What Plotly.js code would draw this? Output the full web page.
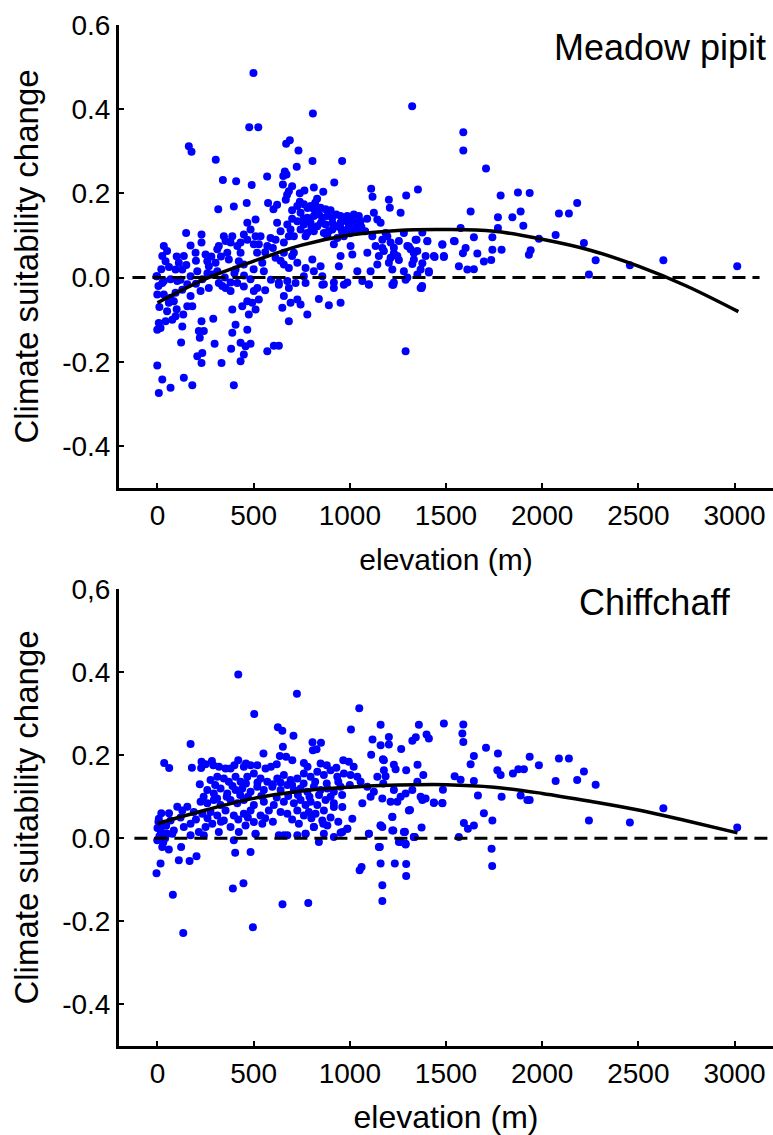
<!DOCTYPE html>
<html>
<head>
<meta charset="utf-8">
<script src="https://cdn.plot.ly/plotly-3.0.1.min.js"></script>
<style>html,body{margin:0;padding:0;background:#fff;}#chart{width:773px;height:1135px;}</style>
</head>
<body>
<div id="chart"></div>
<script>
// ---------- DATA ----------
const xTickVals = [0, 500, 1000, 1500, 2000, 2500, 3000];
const xTickText = ["0", "500", "1000", "1500", "2000", "2500", "3000"];
const yTickVals = [-0.4, -0.2, 0.0, 0.2, 0.4, 0.6];
const yTickTextTop = ["-0.4", "-0.2", "0.0", "0.2", "0.4", "0.6"];
const yTickTextBottom = ["-0.4", "-0.2", "0.0", "0.2", "0.4", "0,6"];

const speciesTop = "Meadow pipit";
const speciesBottom = "Chiffchaff";
const xTitle = "elevation (m)";
const yTitle = "Climate suitability change";

// Meadow pipit: [elevation (m), climate suitability change]
const meadowPoints = [
[1324,0.407],[808,0.390],[499,0.486],[477,0.357],[524,0.357],[163,0.312],[177,0.299],[669,0.318],[688,0.326],[733,0.302],[303,0.280],[806,0.277],[960,0.277],[724,0.263],[662,0.252],[654,0.241],[671,0.245],[570,0.240],[340,0.232],[409,0.229],[490,0.220],[919,0.226],[652,0.221],[700,0.217],[683,0.205],[813,0.214],[862,0.204],[764,0.207],[740,0.200],[1111,0.211],[1118,0.192],[1203,0.185],[1208,0.166],[1293,0.195],[1354,0.209],[316,0.162],[397,0.169],[464,0.177],[575,0.177],[622,0.173],[603,0.162],[667,0.185],[674,0.197],[830,0.187],
[727,0.170],[761,0.174],[796,0.170],[813,0.162],[848,0.166],[874,0.162],[744,0.154],[779,0.142],[813,0.146],[857,0.142],[883,0.146],[909,0.142],[952,0.146],[987,0.146],[1021,0.150],[1047,0.146],[727,0.134],[761,0.126],[796,0.130],[831,0.122],[874,0.126],[909,0.130],[952,0.130],[995,0.126],[1030,0.130],[1056,0.134],[744,0.114],[779,0.106],[813,0.110],[865,0.106],[909,0.114],[952,0.118],[987,0.114],[1021,0.114],[1047,0.114],[709,0.098],[770,0.098],[883,0.098],[935,0.094],[969,0.098],[675,0.126],[692,0.114],[683,0.098],
[700,0.160],[740,0.180],[780,0.165],[820,0.178],[840,0.150],[900,0.160],[930,0.150],[970,0.135],[1010,0.140],[1060,0.120],[1090,0.140],[1080,0.110],[700,0.140],[760,0.140],[800,0.120],[850,0.130],[890,0.110],[930,0.122],[960,0.108],[1000,0.105],
[149,0.106],[229,0.102],[229,0.083],[172,0.076],[198,0.059],[33,0.075],[50,0.063],[25,0.051],[42,0.039],[137,0.051],[111,0.035],[94,0.019],[129,0.019],[-2,0.003],[33,-0.008],[68,-0.004],[207,0.015],[172,0.003],[259,0.039],[267,0.027],[302,0.035],[311,0.015],[285,0.007],[319,0.075],[354,0.087],[389,0.098],[311,0.067],[363,0.059],[415,0.075],[432,0.083],[467,0.090],[371,0.043],[423,0.039],[406,0.019],[449,0.031],[467,0.130],[510,0.138],[484,0.114],[510,0.098],[536,0.098],[501,0.079],[518,0.059],[545,0.035],[553,0.015],[588,0.094],[614,0.090],[622,0.130],[640,0.110],[657,0.083],[614,0.047],[657,0.031],[683,0.023],[709,0.059],[770,0.023],[805,0.043],[813,0.015],[848,0.027],[761,0.003],[857,0.003],[952,0.051],[943,0.027],[917,0.079],[1004,0.075],[1013,0.055],[1039,0.015],[1065,-0.008],[1091,0.059],[1108,0.015],[1125,0.154],[1143,0.138],[1160,0.130],[1134,0.075],[1151,0.051],[1143,0.031],[1169,0.090],[1177,0.063],[1195,0.098],[1212,0.083],[1229,0.071],[1247,0.051],[1203,0.035],[1221,0.019],[1255,0.087],[1264,0.154],[1281,0.106],[1299,0.075],[1316,0.067],[1281,0.015],[1299,0.000],[1333,0.043],[1342,0.090],[1351,0.063],[1368,0.019],[1394,0.051],[1403,0.087],[1411,0.015],[1437,0.051],[1481,0.079],[1489,0.051],[1541,0.087],[1376,-0.020],[1229,-0.012],[1099,-0.016],[987,-0.012],[917,-0.012],[865,-0.016],[631,-0.012],[675,-0.008],[484,-0.004],[380,-0.012],[337,-0.020],[233,-0.004],[155,-0.016],[103,-0.008],[657,0.059],[571,0.075],[527,0.079],[449,0.102],[432,0.059],[345,0.098],[380,0.083],[700,0.051],[727,0.035],[1212,0.047],[1117,0.098],
[250,0.055],[280,0.050],[330,0.050],[200,0.040],[150,0.030],[100,0.050],[60,0.025],[20,0.020],[120,-0.005],[200,-0.015],[260,0.010],[350,0.000],[400,0.010],[450,0.005],[500,0.020],[560,0.060],[600,0.070],[640,0.040],[590,-0.005],[560,-0.030],[10,-0.070],[50,-0.080],[100,-0.075],[5,-0.020],
[-5,0.003],[25,-0.013],[-1,-0.040],[33,-0.040],[68,-0.048],[94,-0.036],[59,-0.060],[85,-0.056],[129,-0.029],[172,-0.044],[155,-0.068],[181,-0.068],[134,-0.088],[94,-0.092],[77,-0.100],[42,-0.104],[7,-0.108],[-1,-0.124],[16,-0.120],[129,-0.116],[229,-0.104],[290,-0.098],[215,-0.127],[241,-0.127],[220,-0.143],[123,-0.154],[297,-0.157],[389,-0.076],[406,-0.112],[389,-0.131],[467,-0.124],[432,-0.155],[458,-0.163],[484,-0.157],[383,-0.169],[449,-0.183],[432,-0.199],[233,-0.179],[207,-0.187],[229,-0.203],[333,-0.203],[-1,-0.209],[25,-0.242],[137,-0.238],[68,-0.262],[181,-0.256],[7,-0.274],[397,-0.256],[571,-0.175],[605,-0.162],[631,-0.162],[441,-0.068],[467,-0.056],[493,-0.060],[510,-0.076],[527,-0.052],[475,-0.088],[501,-0.032],[519,-0.025],[354,-0.025],[380,-0.032],[319,-0.013],[415,-0.013],[449,-0.021],[224,-0.032],[267,-0.025],[631,-0.017],[657,-0.044],[683,-0.025],[718,-0.013],[727,-0.052],[692,-0.060],[649,-0.072],[744,-0.064],[779,-0.088],[683,-0.104],[839,-0.051],[891,-0.066],[952,-0.060],[770,-0.013],[857,-0.017],[917,-0.025],[969,-0.017],[1099,-0.017],[1221,-0.017],[1373,-0.025],[1290,-0.175],
[1590,0.345],[1590,0.302],[1708,0.259],[1628,0.157],[1784,0.195],[1874,0.202],[1935,0.201],[1888,0.157],[1845,0.143],[1770,0.143],[1770,0.118],[1902,0.123],[2087,0.152],[2139,0.152],[2182,0.177],[2070,0.101],[1983,0.092],[1931,0.054],[1940,0.065],[2217,0.082],[2278,0.041],[2243,0.007],[2456,0.029],[2630,0.041],[3014,0.027],[1576,0.118],[1645,0.096],[1741,0.096],[1741,0.066],[1789,0.066],[1697,0.038],[1735,0.042],[1663,0.057],[1588,0.058],[1602,0.070],[1567,0.027],[1611,0.019],[1645,0.020],[1545,0.086],[1481,0.078],[1489,0.049],[1441,0.049],[1403,0.086],[1377,0.034],[1411,0.012],[1377,0.107],[1347,0.090],[1333,0.058],[1325,0.032],[1368,-0.025],[1226,-0.017],[1290,-0.005],[1351,0.007],[1255,0.042],[1229,0.058],[1186,0.106],[1169,0.070],[1307,0.074]
];

// Chiffchaff: [elevation (m), climate suitability change]
const chiffPoints = [
[420,0.394],[725,0.348],[1049,0.313],[503,0.299],[626,0.267],[649,0.259],[707,0.247],[1006,0.262],[1160,0.273],[1359,0.273],[1489,0.276],[172,0.227],[806,0.231],[850,0.230],[808,0.212],[827,0.214],[1118,0.238],[1160,0.224],[1203,0.244],[1203,0.226],[1325,0.235],[1343,0.243],[1399,0.250],[1411,0.240],[1267,0.215],[1111,0.201],[1172,0.190],[551,0.204],[652,0.220],[636,0.198],[669,0.196],[701,0.188],[761,0.181],[848,0.180],[966,0.188],[995,0.184],[35,0.181],[61,0.169],[179,0.170],[229,0.184],[227,0.169],[283,0.186],[290,0.176],[420,0.188],[380,0.168],[449,0.172],[484,0.176],[519,0.176],[562,0.168],[354,0.168],[1229,0.177],[1293,0.164],[1352,0.177],[1382,0.152],[1351,0.136],[1484,0.117],
[276,0.140],[311,0.148],[345,0.144],[371,0.136],[406,0.148],[432,0.136],[467,0.148],[501,0.156],[536,0.144],[571,0.136],[623,0.144],[657,0.152],[692,0.140],[727,0.144],[761,0.156],[796,0.148],[831,0.160],[865,0.152],[900,0.164],[935,0.148],[969,0.156],[1004,0.152],[1039,0.148],[259,0.116],[293,0.108],[328,0.120],[363,0.108],[406,0.116],[441,0.120],[484,0.112],[519,0.124],[553,0.116],[597,0.124],[640,0.116],[675,0.128],[709,0.116],[744,0.120],[779,0.112],[813,0.124],[848,0.116],[883,0.120],[917,0.112],[952,0.124],[224,0.088],[259,0.084],[293,0.092],[328,0.080],[380,0.092],[415,0.084],[449,0.092],[501,0.080],[553,0.088],[605,0.080],[657,0.088],[709,0.084],[744,0.092],[770,0.080],[796,0.088],[831,0.080],[874,0.092],[917,0.084],[103,0.076],[129,0.067],[155,0.076],[189,0.063],[233,0.059],[276,0.063],[311,0.055],[354,0.067],[397,0.055],[449,0.059],[484,0.067],[536,0.055],[579,0.067],[640,0.063],[675,0.059],[727,0.067],[761,0.055],[787,0.063],[822,0.059],[865,0.067],[917,0.075],[961,0.075],[1013,0.047],[7,0.047],[33,0.035],[68,0.043],[16,0.019],[50,0.011],[85,0.019],[137,0.027],[172,0.035],[215,0.015],[250,0.027],[285,0.035],[345,0.043],[380,0.027],[423,0.015],[458,0.031],[501,0.039],[510,0.011],[545,0.035],[631,0.007],[675,0.007],[735,0.035],[770,0.011],[813,0.027],[857,0.043],[883,0.031],[865,0.011],[961,0.015],[987,0.023],[1065,0.084],[1108,0.100],[1125,0.112],[1143,0.148],[1174,0.132],[1186,0.149],[1169,0.096],[1212,0.088],[1229,0.116],[1247,0.088],[1264,0.100],[1290,0.108],[1307,0.067],[1325,0.116],[1368,0.100],[1394,0.096],[1437,0.085],[1481,0.084],[1160,0.031],[1221,0.051],[1226,0.019],[1281,0.015],[1373,0.026],[1099,0.011],[1151,-0.021],[1264,-0.009],[1290,-0.013],[1333,0.003],[1056,0.136],[1091,0.124],
[250,0.178],[320,0.172],[400,0.176],[460,0.180],[590,0.172],[620,0.178],[780,0.172],[880,0.176],[930,0.170],[1020,0.172],
[220,0.130],[300,0.128],[390,0.126],[460,0.132],[520,0.134],[600,0.130],[640,0.134],[700,0.128],[760,0.132],[820,0.136],[880,0.132],[940,0.136],[1000,0.128],
[240,0.100],[310,0.096],[360,0.100],[430,0.104],[470,0.100],[540,0.102],[620,0.098],[680,0.102],[730,0.104],[790,0.100],[840,0.104],[900,0.100],[960,0.104],
[60,0.060],[120,0.050],[200,0.045],[260,0.048],[330,0.040],[420,0.045],[470,0.050],[560,0.048],[600,0.040],[700,0.045],[800,0.048],[900,0.050],[940,0.040],
[0,0.025],[10,0.005],[20,0.060],[30,-0.010],[45,0.030],[5,0.040],[40,0.000],
[-5,-0.084],[16,-0.061],[25,-0.021],[59,-0.027],[-1,-0.005],[33,0.011],[77,0.011],[123,-0.021],[111,-0.053],[167,-0.055],[203,-0.043],[80,-0.136],[134,-0.228],[392,-0.121],[447,-0.108],[404,-0.035],[484,-0.033],[496,-0.214],[650,-0.159],[784,-0.156],[1061,-0.069],[1051,-0.077],[1156,-0.021],[1160,-0.061],[1169,-0.113],[1169,-0.151],[1234,-0.061],[1293,-0.062],[1293,-0.091],[1255,-0.009],[839,-0.009],[917,0.003],[657,0.007],[510,0.010],[397,-0.005],[172,0.007],[241,0.007],[319,0.015],[727,0.007],[770,0.011],[813,0.027],[862,0.035],[1099,0.011],[1160,0.031],[1221,0.019],[1286,0.015],[1338,0.003],[952,0.013],[987,0.023],
[1590,0.274],[1585,0.252],[1590,0.232],[1708,0.218],[1770,0.204],[1645,0.198],[1628,0.178],[1767,0.164],[1784,0.152],[1848,0.156],[1876,0.166],[1905,0.166],[1935,0.196],[1983,0.176],[2087,0.192],[2139,0.192],[2217,0.161],[2182,0.140],[2278,0.129],[2070,0.138],[1645,0.138],[1576,0.141],[1545,0.149],[1666,0.103],[1789,0.100],[1888,0.103],[1935,0.092],[1923,0.092],[1697,0.060],[1741,0.043],[1593,0.037],[1614,0.023],[1645,0.031],[1567,0.003],[2243,0.043],[2456,0.038],[2630,0.072],[3014,0.026],[1737,-0.025],[1740,-0.067],[1481,0.085],[1437,0.086],[1377,0.092],[1313,0.068],[1221,0.052],[1285,0.016],[1333,0.003],[1290,-0.015],[1169,0.027],[1238,0.166],[1177,0.188],[1177,0.164]
];

// Fitted (quadratic) trend curves
const meadowFitX = [0, 250, 500, 750, 1000, 1250, 1500, 1750, 2000, 2250, 2500, 2750, 3020];
const meadowFitY = [-0.060, -0.003, 0.039, 0.077, 0.101, 0.112, 0.114, 0.110, 0.091, 0.065, 0.027, -0.020, -0.081];
const chiffFitX = [0, 250, 500, 750, 1000, 1250, 1500, 1750, 2000, 2250, 2500, 2750, 3015];
const chiffFitY = [0.035, 0.068, 0.096, 0.114, 0.123, 0.128, 0.129, 0.123, 0.108, 0.089, 0.068, 0.042, 0.013];

// Zero reference lines
const meadowZeroX = [-130, 3130];
const chiffZeroX = [-120, 3200];
const zeroY = [0, 0];

// ---------- CHART ----------
const FONT = "Liberation Sans, Arial, sans-serif";
const BLUE = "#0000ff";

function scatter(points, xa, ya) {
  return {
    type: "scatter", mode: "markers",
    x: points.map(p => p[0]), y: points.map(p => p[1]),
    xaxis: xa, yaxis: ya,
    marker: {color: BLUE, size: 8, line: {width: 0}},
    hoverinfo: "skip", showlegend: false
  };
}
function line(x, y, xa, ya, dash, width) {
  return {
    type: "scatter", mode: "lines", x: x, y: y, xaxis: xa, yaxis: ya,
    line: {color: "#000", width: width, dash: dash, shape: "spline", smoothing: 1},
    hoverinfo: "skip", showlegend: false
  };
}

const data = [
  scatter(meadowPoints, "x", "y"),
  line(meadowZeroX, zeroY, "x", "y", "13px,7px", 3),
  line(meadowFitX, meadowFitY, "x", "y", "solid", 3.5),
  scatter(chiffPoints, "x2", "y2"),
  line(chiffZeroX, zeroY, "x2", "y2", "13px,7px", 3),
  line(chiffFitX, chiffFitY, "x2", "y2", "solid", 3.5)
];

function xAxis(anchor, titleSize, standoff) {
  return {
    anchor: anchor, domain: [0, 1], range: [-200, 3200],
    tickmode: "array", tickvals: xTickVals, ticktext: xTickText,
    ticks: "inside", ticklen: 5, tickwidth: 2, tickcolor: "#000",
    showline: true, linewidth: 3, linecolor: "#000",
    showgrid: false, zeroline: false, automargin: false,
    tickfont: {family: FONT, size: 28, color: "#000"},
    title: {text: xTitle, font: {family: FONT, size: titleSize, color: "#000"}, standoff: standoff}
  };
}
function yAxis(anchor, domain, ticktext) {
  return {
    anchor: anchor, domain: domain, range: [-0.5, 0.6],
    tickmode: "array", tickvals: yTickVals, ticktext: ticktext,
    ticks: "inside", ticklen: 5, tickwidth: 2, tickcolor: "#000",
    showline: true, linewidth: 3, linecolor: "#000",
    showgrid: false, zeroline: false, automargin: false,
    tickfont: {family: FONT, size: 28, color: "#000"},
    title: {text: yTitle, font: {family: FONT, size: 33, color: "#000"}, standoff: 14}
  };
}

const layout = {
  width: 773, height: 1135,
  margin: {l: 119, r: 0, t: 25, b: 89, pad: 0},
  paper_bgcolor: "#fff", plot_bgcolor: "#fff",
  font: {family: FONT, color: "#000"},
  showlegend: false,
  xaxis: xAxis("y", 30, 20),
  yaxis: yAxis("x", [0.5465, 1], yTickTextTop),
  xaxis2: xAxis("y2", 32, 20),
  yaxis2: yAxis("x2", [0, 0.4476], yTickTextBottom),
  annotations: [
    {text: speciesTop, xref: "paper", yref: "paper", x: 0.992, y: 0.9775,
     xanchor: "right", yanchor: "middle", showarrow: false,
     font: {family: FONT, size: 36, color: "#000"}},
    {text: speciesBottom, xref: "paper", yref: "paper", x: 0.939, y: 0.4339,
     xanchor: "right", yanchor: "middle", showarrow: false,
     font: {family: FONT, size: 36, color: "#000"}}
  ]
};

Plotly.newPlot("chart", data, layout, {staticPlot: true, displayModeBar: false});
</script>
</body>
</html>
